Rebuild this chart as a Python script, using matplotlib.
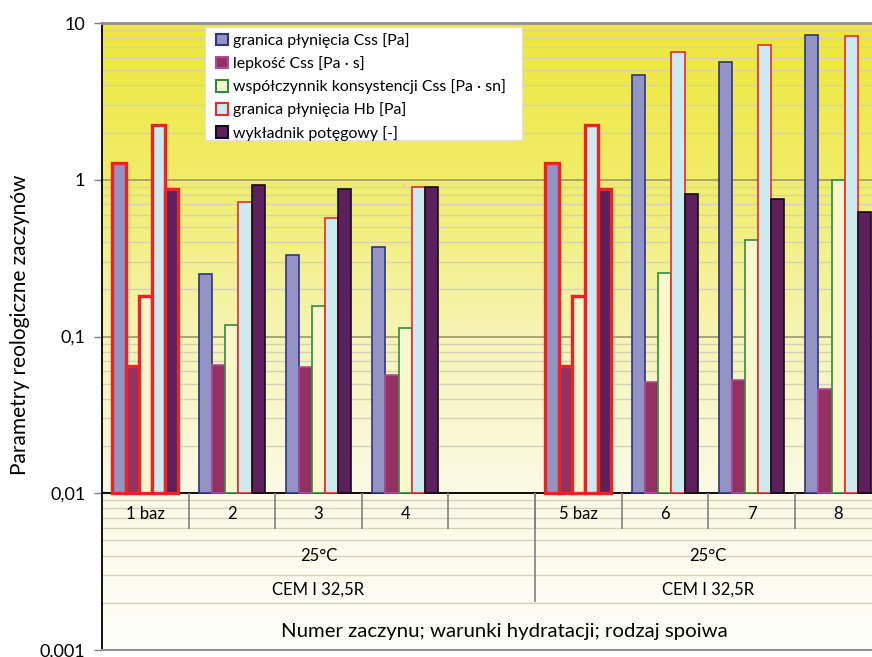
import numpy as np
import matplotlib
matplotlib.use('Agg')
import matplotlib.pyplot as plt
from matplotlib.patches import Patch, Rectangle
from matplotlib.colors import LinearSegmentedColormap

plt.rcParams['font.family'] = ['Lato', 'DejaVu Sans']

# Dane - numery zaczynow (pusta pozycja rozdziela dwie serie)
zaczyny = ['1 baz', '2', '3', '4', '', '5 baz', '6', '7', '8']
temperatura = '25°C'
spoiwo = 'CEM I 32,5R'

tau_css = [1.27, 0.25, 0.33, 0.37, np.nan, 1.27, 4.67, 5.65, 8.39]     # granica plyniecia Css [Pa]
eta_css = [0.065, 0.066, 0.064, 0.057, np.nan, 0.065, 0.051, 0.053, 0.046]  # lepkosc Css [Pa s]
k_css = [0.18, 0.119, 0.157, 0.114, np.nan, 0.18, 0.256, 0.41, 0.99]   # wsp. konsystencji Css
tau_hb = [2.24, 0.72, 0.57, 0.90, np.nan, 2.24, 6.53, 7.24, 8.30]       # granica plyniecia Hb [Pa]
n_hb = [0.87, 0.92, 0.87, 0.90, np.nan, 0.87, 0.815, 0.757, 0.625]     # wykladnik potegowy [-]

serie = [
    ('granica płynięcia Css [Pa]', tau_css, '#9393C6', '#2E3580'),
    ('lepkość Css [Pa · s]', eta_css, '#933163', '#B04C9C'),
    ('współczynnik konsystencji Css [Pa · sn]', k_css, '#FAF7CC', '#2E8B3E'),
    ('granica płynięcia Hb [Pa]', tau_hb, '#CDEAF0', '#F02828'),
    ('wykładnik potęgowy [-]', n_hb, '#5E1F5E', '#111111'),
]

fig = plt.figure(figsize=(8.72, 6.57), dpi=100)
ax = fig.add_axes([102/872, 7/657, 779.4/872, 627/657])
ax.set_yscale('log')
ax.set_ylim(0.001, 10)
ax.set_xlim(0, 9)

# tlo - gradient od zoltego do bialego
tlo = LinearSegmentedColormap.from_list('tlo', [
    (0.0, (254/255, 254/255, 250/255)),
    (0.25, (251/255, 250/255, 230/255)),
    (0.5, (246/255, 244/255, 180/255)),
    (0.75, (241/255, 237/255, 105/255)),
    (1.0, (237/255, 231/255, 55/255)),
])
grad = np.linspace(0, 1, 256).reshape(-1, 1)
ax.imshow(grad, extent=[0, 1, 0, 1], transform=ax.transAxes, aspect='auto',
          cmap=tlo, origin='lower', zorder=0)

# siatka
ax.set_axisbelow(True)
ax.yaxis.set_minor_locator(matplotlib.ticker.LogLocator(base=10, subs=np.arange(2, 10)))
ax.grid(True, which='minor', axis='y', color='#D4D1B8', lw=1.0)
ax.grid(True, which='major', axis='y', color='#A39E6E', lw=1.3)
ax.axhline(0.01, color='black', lw=1.3, zorder=3)

# slupki
w = 0.152
for j, (nazwa, wart, fc, ec) in enumerate(serie):
    for i, v in enumerate(wart):
        if np.isnan(v):
            continue
        baz = 'baz' in zaczyny[i]
        ax.bar(i + 0.5 + (j - 2) * w, v - 0.01, bottom=0.01, width=w,
               facecolor=fc, edgecolor='#EE2222' if baz else ec,
               linewidth=2.4 if baz else 1.2, zorder=4)

# opisy kategorii pod osia
for i, z in enumerate(zaczyny):
    ax.text(i + 0.5, 0.0074, z, ha='center', va='center', fontsize=12, zorder=5)
for x0 in [2.5, 7.0]:
    ax.text(x0, 0.0040, temperatura, ha='center', va='center', fontsize=12, zorder=5)
    ax.text(x0, 0.00242, spoiwo, ha='center', va='center', fontsize=12, zorder=5)
ax.vlines(np.arange(1, 9), 0.0059, 0.01, color='#808080', lw=1.2, zorder=5)
ax.vlines([5, 9], 0.00202, 0.01, color='#808080', lw=1.2, zorder=5)
ax.text(4.65, 0.00131, 'Numer zaczynu; warunki hydratacji; rodzaj spoiwa',
        ha='center', va='center', fontsize=14.7, zorder=5)

# osie
ax.set_xticks([])
ax.set_yticks([0.001, 0.01, 0.1, 1, 10])
ax.set_yticklabels(['0,001', '0,01', '0,1', '1', '10'])
ax.tick_params(axis='y', which='major', length=6, width=1, labelsize=13, pad=6,
               color='#808080')
ax.tick_params(axis='y', which='minor', length=0)
ax.spines['left'].set_color('black')
ax.spines['left'].set_linewidth(1.3)
ax.spines['top'].set_color('#909090')
ax.spines['top'].set_linewidth(2)
ax.spines['bottom'].set_color('#909090')
ax.spines['bottom'].set_linewidth(1.5)
ax.spines['right'].set_visible(False)

fig.text(20/872, 1 - 325/657, 'Parametry reologiczne zaczynów', rotation=90,
         ha='center', va='center', fontsize=15)

# legenda na bialym prostokacie
fig.patches.append(Rectangle((205/872, 1 - 140/657), 317/872, 113/657,
                             transform=fig.transFigure, facecolor='white',
                             edgecolor='#E0E0E0', lw=0.8, zorder=6))
uchwyty = [Patch(facecolor=fc, edgecolor=ec, linewidth=1.5, label=nazwa)
           for nazwa, wart, fc, ec in serie]
leg = fig.legend(handles=uchwyty, loc='upper left', bbox_to_anchor=(216/872, 1 - 33/657),
                 fontsize=11.4, frameon=False, handlelength=0.75, handleheight=0.75,
                 handletextpad=0.3, labelspacing=0.52, borderpad=0,
                 borderaxespad=0)
leg.set_zorder(7)

fig.savefig('out.png', dpi=100)
